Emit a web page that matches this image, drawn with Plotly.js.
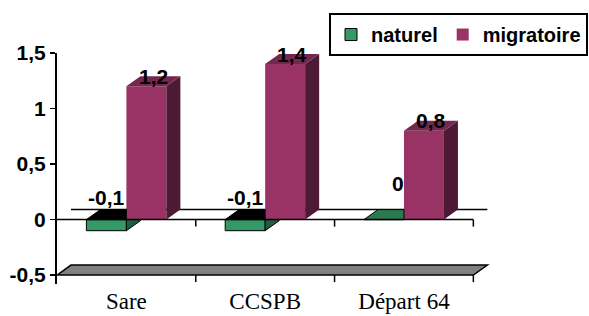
<!DOCTYPE html>
<html>
<head>
<meta charset="utf-8">
<script src="https://cdn.plot.ly/plotly-3.0.1.min.js"></script>
<style>
  html, body { margin: 0; padding: 0; background: #fff; }
  #chart { width: 589px; height: 316px; }
</style>
</head>
<body>
<div id="chart"></div>
<script>
// ---- data ----
const categories = ['Sare', 'CCSPB', 'Départ 64'];
const naturel = [-0.1, -0.1, 0];
const migratoire = [1.2, 1.4, 0.8];
const naturelLabels = ['-0,1', '-0,1', '0'];
const migratoireLabels = ['1,2', '1,4', '0,8'];
const yTickVals = [-0.5, 0, 0.5, 1, 1.5];
const yTickText = ['-0,5', '0', '0,5', '1', '1,5'];
const seriesNames = ['naturel', 'migratoire'];

// ---- style / geometry ----
const BW = 0.288;          // bar width (data units)
const DX = 0.101;          // 3D depth offset x (data units)
const DY = 0.09;           // 3D depth offset y (data units)
const X0 = -0.5, X1 = 2.5; // category boundaries
const YMIN = -0.5;

const GREEN = '#339966', GREEN_SIDE = '#1F5F3F', GREEN_TOP = '#2A7A51', NEG_TOP = '#000000';
const MAG = '#993366', MAG_SIDE = '#4D1A35', MAG_TOP = '#74274F';
const BOLD = 'Liberation Sans, Arial, sans-serif';
const SERIF = 'Liberation Serif, Times New Roman, serif';

const xIdx = categories.map((c, i) => i);
const traces = [];

function poly(xs, ys, fill, lineColor, lineWidth) {
  traces.push({
    type: 'scatter', mode: 'lines', x: xs.concat([xs[0]]), y: ys.concat([ys[0]]),
    fill: 'toself', fillcolor: fill,
    line: { color: lineColor || fill, width: lineWidth || 0 },
    hoverinfo: 'skip', showlegend: false
  });
}

// front faces as bars
traces.push({
  type: 'bar', name: seriesNames[0], x: xIdx, y: naturel,
  width: BW, offset: -BW,
  marker: { color: GREEN, line: { color: '#000', width: 1 } },
  hoverinfo: 'skip'
});
traces.push({
  type: 'bar', name: seriesNames[1], x: xIdx, y: migratoire,
  width: BW, offset: 0,
  marker: { color: MAG, line: { color: MAG, width: 0 } },
  hoverinfo: 'skip'
});

// 3D faces for naturel (green)
naturel.forEach((v, i) => {
  const L = i - BW, R = i;
  if (v < 0) {
    poly([R, R + DX, R + DX, R], [v, Math.min(v + DY, 0), 0, 0], GREEN_SIDE, '#000', 1);
  }
  poly([L, L + DX, R, R], [Math.max(v, 0), Math.max(v, 0) + DY, Math.max(v, 0) + DY, Math.max(v, 0)],
       v < 0 ? NEG_TOP : GREEN_TOP, '#000', 1);
});

// 3D faces for migratoire (plum)
migratoire.forEach((v, i) => {
  const L = i, R = i + BW;
  poly([R, R + DX, R + DX, R], [0, DY, v + DY, v], MAG_SIDE);
  poly([L, L + DX, R + DX, R], [v, v + DY, v + DY, v], MAG_TOP);
});

// data labels
const labFont = { family: BOLD, size: 21, color: '#000', weight: 'bold' };
const annotations = [];
migratoire.forEach((v, i) => {
  annotations.push({ x: i + BW / 2 + DX / 2, y: v + DY, text: migratoireLabels[i],
    showarrow: false, xanchor: 'center', yanchor: 'middle', font: labFont });
});
naturel.forEach((v, i) => {
  const neg = v < 0;
  annotations.push({ x: i - BW / 2 + (neg ? 0 : DX), y: Math.max(v, 0) + DY, yshift: neg ? 12 : 26,
    text: naturelLabels[i], showarrow: false, xanchor: 'center', yanchor: 'middle', font: labFont });
});

// decoration shapes: floor, zero plane, tick marks
const shapes = [];
shapes.push({ type: 'path', layer: 'below', xref: 'x', yref: 'y',
  path: `M${X0},${YMIN} L${X0 + DX},${YMIN + DY} L${X1 + DX},${YMIN + DY} L${X1},${YMIN} Z`,
  fillcolor: '#808080', line: { color: '#000', width: 1.5 } });
shapes.push({ type: 'line', layer: 'below', xref: 'x', yref: 'y',
  x0: X0 + DX, x1: X1 + DX, y0: DY, y1: DY, line: { color: '#000', width: 1.5 } });
shapes.push({ type: 'line', layer: 'above', xref: 'x', yref: 'y',
  x0: X0, x1: X1, y0: 0, y1: 0, line: { color: '#000', width: 1.5 } });
const TK = 7 / 111;
for (let b = X0 + 1; b <= X1 + 1e-9; b += 1) {
  shapes.push({ type: 'line', layer: 'above', xref: 'x', yref: 'y',
    x0: b, x1: b, y0: 0, y1: -TK, line: { color: '#000', width: 1.5 } });
  shapes.push({ type: 'line', layer: 'above', xref: 'x', yref: 'y',
    x0: b, x1: b, y0: YMIN, y1: YMIN - TK, line: { color: '#000', width: 1.5 } });
}

const layout = {
  width: 589, height: 316,
  margin: { l: 57, r: 99, t: 53, b: 32, pad: 0, autoexpand: false },
  paper_bgcolor: '#fff', plot_bgcolor: 'rgba(0,0,0,0)',
  barmode: 'overlay',
  showlegend: true,
  legend: {
    orientation: 'h', x: 0.6282, xanchor: 'left', y: 1.173, yanchor: 'top',
    bgcolor: '#fff', bordercolor: '#000', borderwidth: 2,
    font: { family: BOLD, size: 20, color: '#000', weight: 'bold' }
  },
  xaxis: {
    type: 'linear', range: [-0.5, 2.62], fixedrange: true,
    tickmode: 'array', tickvals: xIdx, ticktext: categories,
    ticks: '', showgrid: false, zeroline: false, showline: false,
    tickfont: { family: SERIF, size: 23, color: '#000' },
    ticklabelstandoff: 1
  },
  yaxis: {
    range: [-0.58, 1.5], fixedrange: true,
    tickmode: 'array', tickvals: yTickVals, ticktext: yTickText,
    ticks: 'outside', ticklen: 5, tickwidth: 1.5, tickcolor: '#000',
    showgrid: false, zeroline: false,
    showline: true, linecolor: '#000', linewidth: 2,
    tickfont: { family: BOLD, size: 21, color: '#000', weight: 'bold' }
  },
  shapes: shapes,
  annotations: annotations
};

Plotly.newPlot('chart', traces, layout, { displayModeBar: false, staticPlot: true });
</script>
</body>
</html>
